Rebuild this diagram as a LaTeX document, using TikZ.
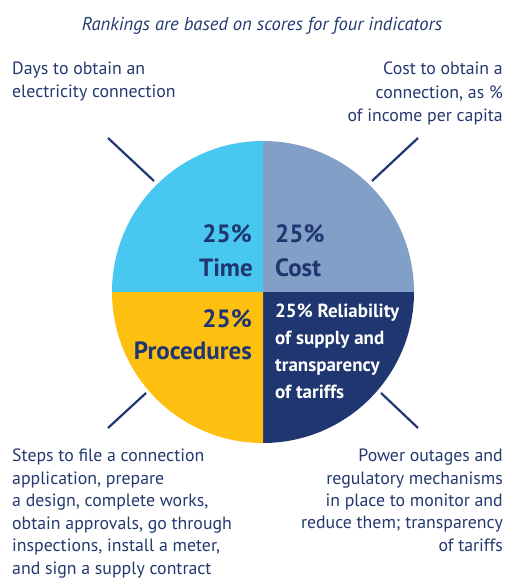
\documentclass[tikz,border=0pt]{standalone}
\usepackage{fontspec}
\setmainfont{PT Sans}
\definecolor{navy}{HTML}{1F3670}
\definecolor{txt}{HTML}{23396F}
\definecolor{timec}{HTML}{48C7F0}
\definecolor{costc}{HTML}{829FC8}
\definecolor{procc}{HTML}{FDC010}
\definecolor{relc}{HTML}{1F3670}
\begin{document}
\begin{tikzpicture}[x=1pt,y=-1pt,
  body/.style={inner sep=0pt,text=txt,font=\fontsize{17.8}{22.5}\selectfont,align=left},
  bodyr/.style={inner sep=0pt,text=txt,font=\fontsize{17.8}{23.5}\selectfont,align=right},
  big/.style={inner sep=0pt,text=navy,font=\fontsize{25}{34}\selectfont\bfseries},
  lead/.style={draw=navy,line width=2.2pt}]
\useasboundingbox (0,0) rectangle (506,585);
\coordinate (c) at (263,292);
% pie
\fill[timec] (c) -- ++(-151pt,0pt) arc[start angle=180,end angle=90,radius=151pt] -- cycle;
\fill[costc] (c) -- ++(0pt,151pt) arc[start angle=90,end angle=0,radius=151pt] -- cycle;
\fill[relc] (c) -- ++(151pt,0pt) arc[start angle=0,end angle=-90,radius=151pt] -- cycle;
\fill[procc] (c) -- ++(0pt,-151pt) arc[start angle=-90,end angle=-180,radius=151pt] -- cycle;
% title
\node[inner sep=0pt,anchor=base,text=txt,font=\fontsize{18.6}{20}\selectfont\itshape] (title) at (262,31) {Rankings are based on scores for four indicators};
% corner texts
\node[body,anchor=north west] (tl) at (12,62) {Days to obtain an\\electricity connection};
\node[bodyr,anchor=north east] (tr) at (503,62) {Cost to obtain a\\connection, as \%\\of income per capita};
\node[body,anchor=north west] (bl) at (12,449) {Steps to file a connection\\application, prepare\\a design, complete works,\\obtain approvals, go through\\inspections, install a meter,\\and sign a supply contract};
\node[bodyr,anchor=north east,font=\fontsize{17.8}{22.3}\selectfont] (br) at (503,449) {Power outages and\\regulatory mechanisms\\in place to monitor and\\reduce them; transparency\\of tariffs};
% pie labels
\node[big,anchor=base east] (t1) at (252,242) {25\%};
\node[big,anchor=base east] (t2) at (253,276) {Time};
\node[big,anchor=base west] (c1) at (275,242) {25\%};
\node[big,anchor=base west] (c2) at (275,276) {Cost};
\node[big,anchor=base east] (p1) at (252,327) {25\%};
\node[big,anchor=base east] (p2) at (252,359) {Procedures};
\node[inner sep=0pt,anchor=north west,text=white,align=left,font=\fontsize{19}{27}\selectfont\bfseries] (rel) at (275,304) {25\% Reliability\\of supply and\\transparency\\of tariffs};
% leader lines
\coordinate (a1) at (108,138); \coordinate (a2) at (154,181);
\coordinate (b1) at (418,138); \coordinate (b2) at (372,181);
\coordinate (d1) at (108,428); \coordinate (d2) at (146,393);
\coordinate (e1) at (418,428); \coordinate (e2) at (381,393);
\draw[lead] (a1) -- (a2);
\draw[lead] (b1) -- (b2);
\draw[lead] (d1) -- (d2);
\draw[lead] (e1) -- (e2);
\end{tikzpicture}
\end{document}
